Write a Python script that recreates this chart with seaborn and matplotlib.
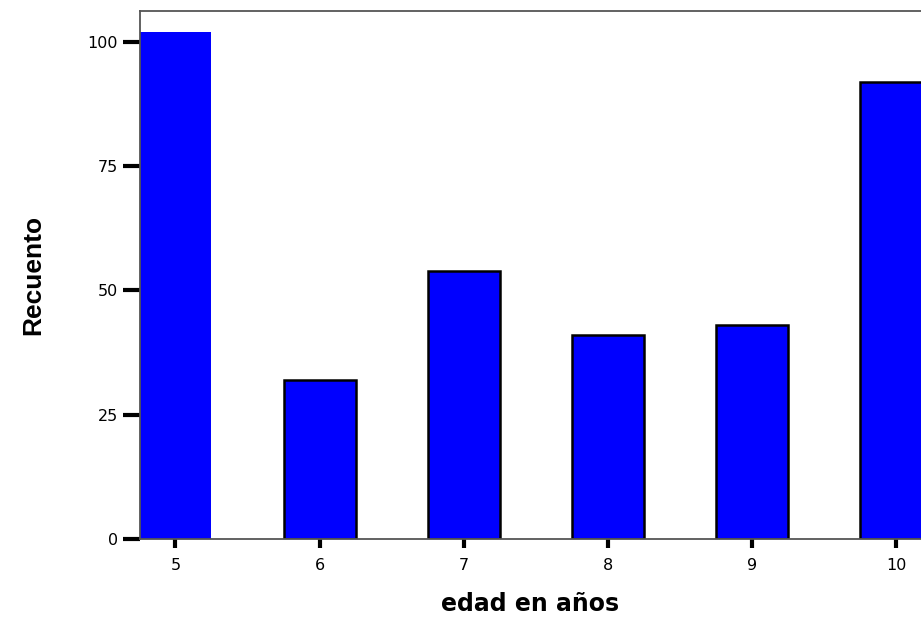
import pandas as pd
import matplotlib.pyplot as plt
import seaborn as sns

# conteo por edad
edades = ['5', '6', '7', '8', '9', '10']
recuento = [102, 32, 54, 41, 43, 92]
y_ticks = [0, 25, 50, 75, 100]

df = pd.DataFrame({'edad': edades, 'n': recuento})

sns.set_style('white')
plt.rcParams['font.family'] = ['DejaVu Sans']
plt.rcParams['text.color'] = 'black'
plt.rcParams['axes.labelcolor'] = 'black'

fig = plt.figure(figsize=(9.21, 6.19), dpi=100)
ax = fig.add_axes([140/921, 1 - 539/619, 1 - 140/921, (539 - 11)/619])

sns.barplot(data=df, x='edad', y='n', order=edades, color='#0000ff',
            saturation=1, width=0.5, edgecolor='black', linewidth=1.8, ax=ax)
# la primera barra no tiene borde
ax.patches[0].set_edgecolor('none')

ax.set_xlim(-0.245, 5.17)
ax.set_ylim(0, 106.2)
ax.set_yticks(y_ticks)

for s in ['left', 'top', 'bottom']:
    ax.spines[s].set_color('#555555')
    ax.spines[s].set_linewidth(1.3)
ax.spines['right'].set_visible(False)

ax.tick_params(axis='y', length=12, width=3, color='black', pad=4, labelsize=11.5,
               labelcolor='black', left=True)
ax.tick_params(axis='x', length=6.5, width=3, color='black', pad=7, labelsize=11.5,
               labelcolor='black', bottom=True)

ax.set_xlabel('edad en años', fontsize=17, fontweight='bold', labelpad=14)
ax.set_ylabel('Recuento', fontsize=19, fontweight='bold', labelpad=30,
              family=['Liberation Sans Narrow', 'Liberation Sans', 'DejaVu Sans'])

fig.savefig('out.png', dpi=100)
